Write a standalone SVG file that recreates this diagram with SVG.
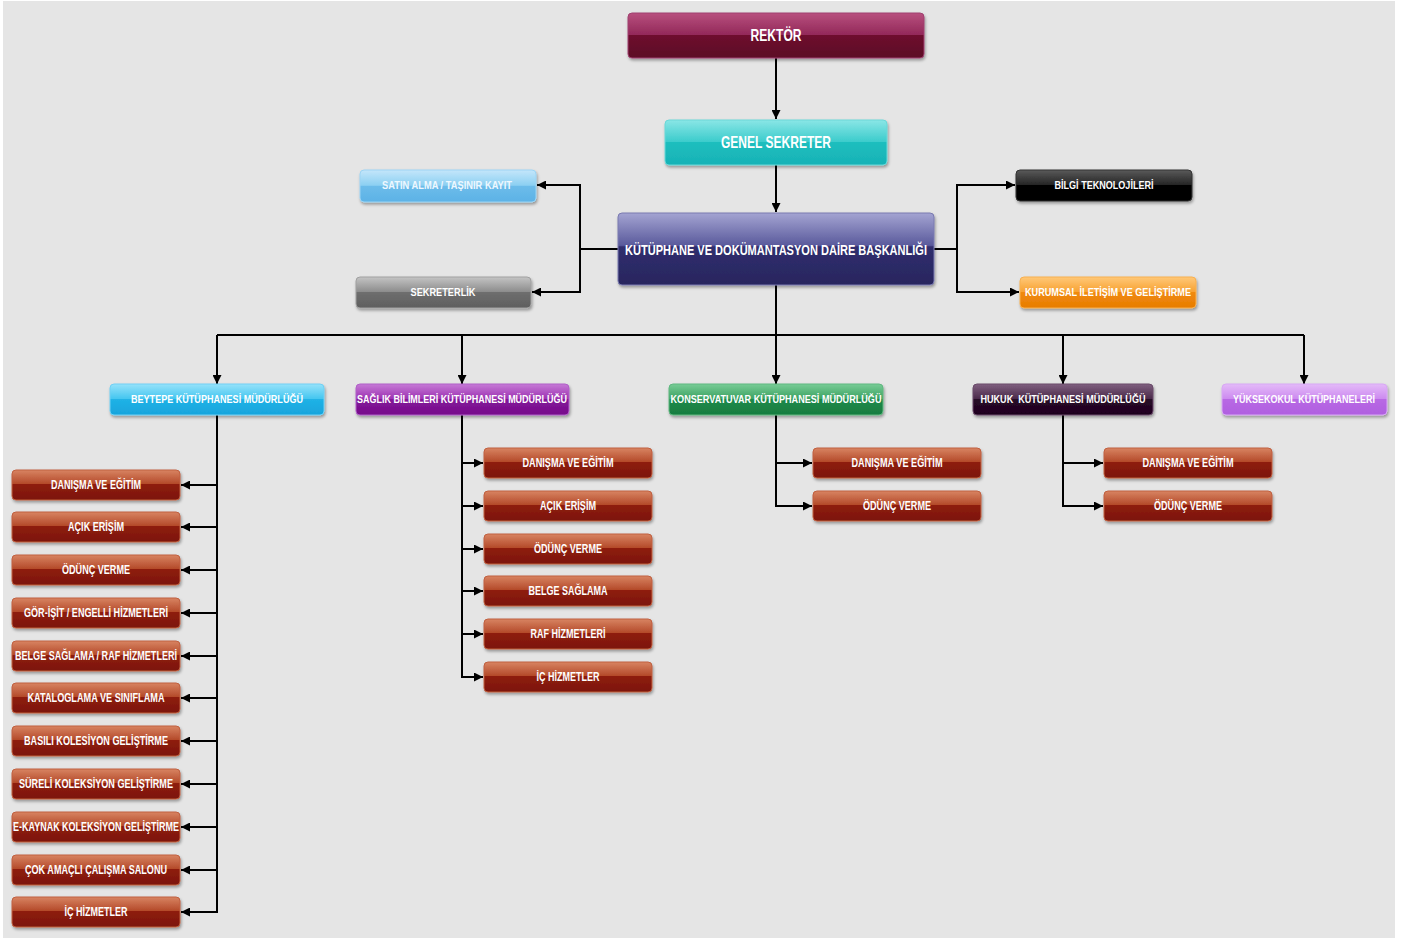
<svg xmlns="http://www.w3.org/2000/svg" width="1407" height="940" viewBox="0 0 1407 940">
<defs>
<style>
.t{font-family:"Liberation Sans",Arial,sans-serif;font-weight:bold;fill:#fff;text-anchor:middle}
.s11{font-size:11.5px}.s12{font-size:12px}.s15{font-size:15px}.s16{font-size:16.5px}
.ln{fill:none;stroke:#000;stroke-width:2}
.bx{filter:url(#sh);stroke-width:1}
</style>
<filter id="sh" x="-10%" y="-30%" width="120%" height="170%">
<feDropShadow dx="1" dy="2" stdDeviation="1.5" flood-color="#000" flood-opacity="0.35"/>
</filter>
<marker id="ah" viewBox="0 0 10 10" refX="10" refY="5" markerWidth="4.5" markerHeight="4.5" orient="auto" markerUnits="strokeWidth">
<path d="M0,0 L10,5 L0,10 z" fill="#000"/>
</marker>
<linearGradient id="gRek" x1="0" y1="0" x2="0" y2="1"><stop offset="0" stop-color="#b8507e"/><stop offset="0.48" stop-color="#93295a"/><stop offset="0.5" stop-color="#6e0f2e"/><stop offset="1" stop-color="#5c0a26"/></linearGradient>
<linearGradient id="gGen" x1="0" y1="0" x2="0" y2="1"><stop offset="0" stop-color="#8ae6e6"/><stop offset="0.48" stop-color="#3ccccc"/><stop offset="0.5" stop-color="#1ebebe"/><stop offset="1" stop-color="#17b2b6"/></linearGradient>
<linearGradient id="gKut" x1="0" y1="0" x2="0" y2="1"><stop offset="0" stop-color="#a4a4d2"/><stop offset="0.45" stop-color="#5a5a9c"/><stop offset="0.47" stop-color="#302e6e"/><stop offset="1" stop-color="#28265e"/></linearGradient>
<linearGradient id="gSat" x1="0" y1="0" x2="0" y2="1"><stop offset="0" stop-color="#c4e6fa"/><stop offset="0.48" stop-color="#8cd0f2"/><stop offset="0.5" stop-color="#6cbcea"/><stop offset="1" stop-color="#5cb2e6"/></linearGradient>
<linearGradient id="gSek" x1="0" y1="0" x2="0" y2="1"><stop offset="0" stop-color="#c4c4c4"/><stop offset="0.48" stop-color="#8c8c8c"/><stop offset="0.5" stop-color="#6e6e6e"/><stop offset="1" stop-color="#5e5e5e"/></linearGradient>
<linearGradient id="gBil" x1="0" y1="0" x2="0" y2="1"><stop offset="0" stop-color="#5a5a5a"/><stop offset="0.48" stop-color="#242424"/><stop offset="0.5" stop-color="#060606"/><stop offset="1" stop-color="#000"/></linearGradient>
<linearGradient id="gKur" x1="0" y1="0" x2="0" y2="1"><stop offset="0" stop-color="#ffc878"/><stop offset="0.48" stop-color="#f8a232"/><stop offset="0.5" stop-color="#f08a10"/><stop offset="1" stop-color="#e87c00"/></linearGradient>
<linearGradient id="gBey" x1="0" y1="0" x2="0" y2="1"><stop offset="0" stop-color="#96e2fa"/><stop offset="0.48" stop-color="#44c6f0"/><stop offset="0.5" stop-color="#20b2e6"/><stop offset="1" stop-color="#18a4dc"/></linearGradient>
<linearGradient id="gSag" x1="0" y1="0" x2="0" y2="1"><stop offset="0" stop-color="#c67ad6"/><stop offset="0.48" stop-color="#9c32b2"/><stop offset="0.5" stop-color="#84169a"/><stop offset="1" stop-color="#760c8a"/></linearGradient>
<linearGradient id="gKon" x1="0" y1="0" x2="0" y2="1"><stop offset="0" stop-color="#78cc96"/><stop offset="0.48" stop-color="#3ca262"/><stop offset="0.5" stop-color="#1e8a4a"/><stop offset="1" stop-color="#187c40"/></linearGradient>
<linearGradient id="gHuk" x1="0" y1="0" x2="0" y2="1"><stop offset="0" stop-color="#806080"/><stop offset="0.48" stop-color="#4a2a4a"/><stop offset="0.5" stop-color="#280828"/><stop offset="1" stop-color="#1e041e"/></linearGradient>
<linearGradient id="gYuk" x1="0" y1="0" x2="0" y2="1"><stop offset="0" stop-color="#e4baf8"/><stop offset="0.48" stop-color="#cc8af0"/><stop offset="0.5" stop-color="#b868e4"/><stop offset="1" stop-color="#b060e0"/></linearGradient>
<linearGradient id="gBr" x1="0" y1="0" x2="0" y2="1"><stop offset="0" stop-color="#d88462"/><stop offset="0.46" stop-color="#b44a2a"/><stop offset="0.48" stop-color="#8e1e0e"/><stop offset="1" stop-color="#7c1408"/></linearGradient>
</defs>

<rect x="0" y="0" width="1407" height="940" fill="#ffffff"/>
<rect x="3" y="1" width="1392" height="937" fill="#e5e5e5"/>

<g id="connectors">
<path class="ln" d="M776,58 V119" marker-end="url(#ah)"/>
<path class="ln" d="M776,165 V212" marker-end="url(#ah)"/>
<path class="ln" d="M618,249 H580 V185 H537" marker-end="url(#ah)"/>
<path class="ln" d="M580,249 V292 H532" marker-end="url(#ah)"/>
<path class="ln" d="M934,249 H957 V185 H1015" marker-end="url(#ah)"/>
<path class="ln" d="M957,249 V292 H1019" marker-end="url(#ah)"/>
<path class="ln" d="M776,285 V335"/>
<path class="ln" d="M217,335 H1304"/>
<path class="ln" d="M217,335 V384" marker-end="url(#ah)"/>
<path class="ln" d="M462,335 V384" marker-end="url(#ah)"/>
<path class="ln" d="M776,335 V384" marker-end="url(#ah)"/>
<path class="ln" d="M1063,335 V384" marker-end="url(#ah)"/>
<path class="ln" d="M1304,335 V384" marker-end="url(#ah)"/>
<path class="ln" d="M217,415 V912"/>
<path class="ln" d="M217,485 H181" marker-end="url(#ah)"/>
<path class="ln" d="M217,527 H181" marker-end="url(#ah)"/>
<path class="ln" d="M217,570 H181" marker-end="url(#ah)"/>
<path class="ln" d="M217,613 H181" marker-end="url(#ah)"/>
<path class="ln" d="M217,656 H181" marker-end="url(#ah)"/>
<path class="ln" d="M217,698 H181" marker-end="url(#ah)"/>
<path class="ln" d="M217,741 H181" marker-end="url(#ah)"/>
<path class="ln" d="M217,784 H181" marker-end="url(#ah)"/>
<path class="ln" d="M217,827 H181" marker-end="url(#ah)"/>
<path class="ln" d="M217,870 H181" marker-end="url(#ah)"/>
<path class="ln" d="M218,912 H181" marker-end="url(#ah)"/>
<path class="ln" d="M462,415 V677"/>
<path class="ln" d="M462,463 H483" marker-end="url(#ah)"/>
<path class="ln" d="M462,506 H483" marker-end="url(#ah)"/>
<path class="ln" d="M462,549 H483" marker-end="url(#ah)"/>
<path class="ln" d="M462,591 H483" marker-end="url(#ah)"/>
<path class="ln" d="M462,634 H483" marker-end="url(#ah)"/>
<path class="ln" d="M461,677 H483" marker-end="url(#ah)"/>
<path class="ln" d="M776,415 V506"/>
<path class="ln" d="M776,463 H812" marker-end="url(#ah)"/>
<path class="ln" d="M775,506 H812" marker-end="url(#ah)"/>
<path class="ln" d="M1063,415 V506"/>
<path class="ln" d="M1063,463 H1103" marker-end="url(#ah)"/>
<path class="ln" d="M1062,506 H1103" marker-end="url(#ah)"/>
</g>

<g id="rektor"><rect class="bx" x="628" y="13" width="296" height="45" rx="4" fill="url(#gRek)" stroke="#a04070"/><text class="t s16" x="776" y="41" textLength="51" lengthAdjust="spacingAndGlyphs">REKTÖR</text></g>
<g id="genel-sekreter"><rect class="bx" x="665" y="120" width="222" height="45" rx="4" fill="url(#gGen)" stroke="#6ad8d8"/><text class="t s16" x="776" y="148" textLength="110" lengthAdjust="spacingAndGlyphs">GENEL SEKRETER</text></g>
<g id="daire-baskanligi"><rect class="bx" x="618" y="213" width="316" height="72" rx="4" fill="url(#gKut)" stroke="#7a7ab0"/><text class="t s15" x="776" y="255" textLength="302" lengthAdjust="spacingAndGlyphs">KÜTÜPHANE VE DOKÜMANTASYON DAİRE BAŞKANLIĞI</text></g>
<g id="satin-alma"><rect class="bx" x="360" y="170" width="176" height="32" rx="4" fill="url(#gSat)" stroke="#9cd4f4"/><text class="t s11" x="447" y="189" textLength="130" lengthAdjust="spacingAndGlyphs" style="fill:#eef8ff">SATIN ALMA / TAŞINIR KAYIT</text></g>
<g id="sekreterlik"><rect class="bx" x="356" y="277" width="175" height="31" rx="4" fill="url(#gSek)" stroke="#a0a0a0"/><text class="t s11" x="443" y="296" textLength="65" lengthAdjust="spacingAndGlyphs">SEKRETERLİK</text></g>
<g id="bilgi-teknolojileri"><rect class="bx" x="1016" y="170" width="176" height="31" rx="4" fill="url(#gBil)" stroke="#333"/><text class="t s11" x="1104" y="189" textLength="99" lengthAdjust="spacingAndGlyphs">BİLGİ TEKNOLOJİLERİ</text></g>
<g id="kurumsal-iletisim"><rect class="bx" x="1020" y="277" width="176" height="31" rx="4" fill="url(#gKur)" stroke="#f8b050"/><text class="t s11" x="1108" y="296" textLength="166" lengthAdjust="spacingAndGlyphs">KURUMSAL İLETİŞİM VE GELİŞTİRME</text></g>

<g id="beytepe"><rect class="bx" x="110" y="384" width="214" height="31" rx="4" fill="url(#gBey)" stroke="#70d0f4"/><text class="t s11" x="217" y="403" textLength="172" lengthAdjust="spacingAndGlyphs">BEYTEPE KÜTÜPHANESİ MÜDÜRLÜĞÜ</text></g>
<g id="saglik"><rect class="bx" x="356" y="384" width="213" height="31" rx="4" fill="url(#gSag)" stroke="#b060c8"/><text class="t s11" x="462" y="403" textLength="210" lengthAdjust="spacingAndGlyphs">SAĞLIK BİLİMLERİ KÜTÜPHANESİ MÜDÜRLÜĞÜ</text></g>
<g id="konservatuvar"><rect class="bx" x="669" y="384" width="214" height="31" rx="4" fill="url(#gKon)" stroke="#60b880"/><text class="t s11" x="776" y="403" textLength="211" lengthAdjust="spacingAndGlyphs">KONSERVATUVAR KÜTÜPHANESİ MÜDÜRLÜĞÜ</text></g>
<g id="hukuk"><rect class="bx" x="973" y="384" width="180" height="31" rx="4" fill="url(#gHuk)" stroke="#6a4a6a"/><text class="t s11" x="1063" y="403" textLength="165" lengthAdjust="spacingAndGlyphs" xml:space="preserve">HUKUK  KÜTÜPHANESİ MÜDÜRLÜĞÜ</text></g>
<g id="yuksekokul"><rect class="bx" x="1222" y="384" width="165" height="31" rx="4" fill="url(#gYuk)" stroke="#d8a8f4"/><text class="t s11" x="1304" y="403" textLength="142" lengthAdjust="spacingAndGlyphs">YÜKSEKOKUL KÜTÜPHANELERİ</text></g>

<g id="b-danisma"><rect class="bx" x="12" y="470" width="168" height="30" rx="4" fill="url(#gBr)" stroke="#c06040"/><text class="t s12" x="96" y="489" textLength="90" lengthAdjust="spacingAndGlyphs">DANIŞMA VE EĞİTİM</text></g>
<g id="b-acik"><rect class="bx" x="12" y="512" width="168" height="30" rx="4" fill="url(#gBr)" stroke="#c06040"/><text class="t s12" x="96" y="531" textLength="56" lengthAdjust="spacingAndGlyphs">AÇIK ERİŞİM</text></g>
<g id="b-odunc"><rect class="bx" x="12" y="555" width="168" height="30" rx="4" fill="url(#gBr)" stroke="#c06040"/><text class="t s12" x="96" y="574" textLength="68" lengthAdjust="spacingAndGlyphs">ÖDÜNÇ VERME</text></g>
<g id="b-gorisit"><rect class="bx" x="12" y="598" width="168" height="30" rx="4" fill="url(#gBr)" stroke="#c06040"/><text class="t s12" x="96" y="617" textLength="144" lengthAdjust="spacingAndGlyphs">GÖR-İŞİT / ENGELLİ HİZMETLERİ</text></g>
<g id="b-belge"><rect class="bx" x="12" y="641" width="168" height="30" rx="4" fill="url(#gBr)" stroke="#c06040"/><text class="t s12" x="96" y="660" textLength="162" lengthAdjust="spacingAndGlyphs">BELGE SAĞLAMA / RAF HİZMETLERİ</text></g>
<g id="b-katalog"><rect class="bx" x="12" y="683" width="168" height="30" rx="4" fill="url(#gBr)" stroke="#c06040"/><text class="t s12" x="96" y="702" textLength="137" lengthAdjust="spacingAndGlyphs">KATALOGLAMA VE SINIFLAMA</text></g>
<g id="b-basili"><rect class="bx" x="12" y="726" width="168" height="30" rx="4" fill="url(#gBr)" stroke="#c06040"/><text class="t s12" x="96" y="745" textLength="144" lengthAdjust="spacingAndGlyphs">BASILI KOLESİYON GELİŞTİRME</text></g>
<g id="b-sureli"><rect class="bx" x="12" y="769" width="168" height="30" rx="4" fill="url(#gBr)" stroke="#c06040"/><text class="t s12" x="96" y="788" textLength="154" lengthAdjust="spacingAndGlyphs">SÜRELİ KOLEKSİYON GELİŞTİRME</text></g>
<g id="b-ekaynak"><rect class="bx" x="12" y="812" width="168" height="30" rx="4" fill="url(#gBr)" stroke="#c06040"/><text class="t s12" x="96" y="831" textLength="166" lengthAdjust="spacingAndGlyphs">E-KAYNAK KOLEKSİYON GELİŞTİRME</text></g>
<g id="b-cok"><rect class="bx" x="12" y="855" width="168" height="30" rx="4" fill="url(#gBr)" stroke="#c06040"/><text class="t s12" x="96" y="874" textLength="142" lengthAdjust="spacingAndGlyphs">ÇOK AMAÇLI ÇALIŞMA SALONU</text></g>
<g id="b-ic"><rect class="bx" x="12" y="897" width="168" height="30" rx="4" fill="url(#gBr)" stroke="#c06040"/><text class="t s12" x="96" y="916" textLength="63" lengthAdjust="spacingAndGlyphs">İÇ HİZMETLER</text></g>

<g id="s-danisma"><rect class="bx" x="484" y="448" width="168" height="30" rx="4" fill="url(#gBr)" stroke="#c06040"/><text class="t s12" x="568" y="467" textLength="91" lengthAdjust="spacingAndGlyphs">DANIŞMA VE EĞİTİM</text></g>
<g id="s-acik"><rect class="bx" x="484" y="491" width="168" height="30" rx="4" fill="url(#gBr)" stroke="#c06040"/><text class="t s12" x="568" y="510" textLength="56" lengthAdjust="spacingAndGlyphs">AÇIK ERİŞİM</text></g>
<g id="s-odunc"><rect class="bx" x="484" y="534" width="168" height="30" rx="4" fill="url(#gBr)" stroke="#c06040"/><text class="t s12" x="568" y="553" textLength="68" lengthAdjust="spacingAndGlyphs">ÖDÜNÇ VERME</text></g>
<g id="s-belge"><rect class="bx" x="484" y="576" width="168" height="30" rx="4" fill="url(#gBr)" stroke="#c06040"/><text class="t s12" x="568" y="595" textLength="79" lengthAdjust="spacingAndGlyphs">BELGE SAĞLAMA</text></g>
<g id="s-raf"><rect class="bx" x="484" y="619" width="168" height="30" rx="4" fill="url(#gBr)" stroke="#c06040"/><text class="t s12" x="568" y="638" textLength="75" lengthAdjust="spacingAndGlyphs">RAF HİZMETLERİ</text></g>
<g id="s-ic"><rect class="bx" x="484" y="662" width="168" height="30" rx="4" fill="url(#gBr)" stroke="#c06040"/><text class="t s12" x="568" y="681" textLength="63" lengthAdjust="spacingAndGlyphs">İÇ HİZMETLER</text></g>

<g id="k-danisma"><rect class="bx" x="813" y="448" width="168" height="30" rx="4" fill="url(#gBr)" stroke="#c06040"/><text class="t s12" x="897" y="467" textLength="91" lengthAdjust="spacingAndGlyphs">DANIŞMA VE EĞİTİM</text></g>
<g id="k-odunc"><rect class="bx" x="813" y="491" width="168" height="30" rx="4" fill="url(#gBr)" stroke="#c06040"/><text class="t s12" x="897" y="510" textLength="68" lengthAdjust="spacingAndGlyphs">ÖDÜNÇ VERME</text></g>

<g id="h-danisma"><rect class="bx" x="1104" y="448" width="168" height="30" rx="4" fill="url(#gBr)" stroke="#c06040"/><text class="t s12" x="1188" y="467" textLength="91" lengthAdjust="spacingAndGlyphs">DANIŞMA VE EĞİTİM</text></g>
<g id="h-odunc"><rect class="bx" x="1104" y="491" width="168" height="30" rx="4" fill="url(#gBr)" stroke="#c06040"/><text class="t s12" x="1188" y="510" textLength="68" lengthAdjust="spacingAndGlyphs">ÖDÜNÇ VERME</text></g>
</svg>
